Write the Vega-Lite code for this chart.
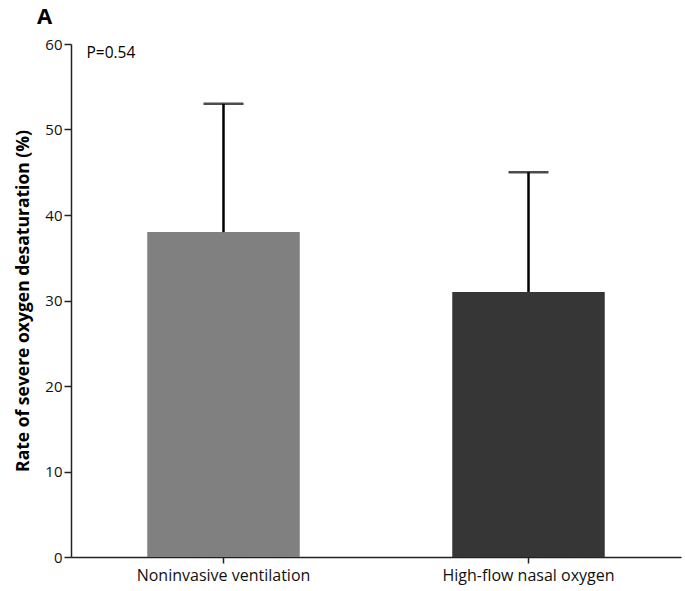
{
  "$schema": "https://vega.github.io/schema/vega-lite/v6.json",
  "width": 610,
  "height": 513,
  "autosize": {"type": "none"},
  "padding": {"left": 71, "top": 44, "right": 4, "bottom": 34},
  "background": "white",
  "config": {
    "view": {"stroke": null},
    "font": "Open Sans"
  },
  "title": {
    "text": "A",
    "anchor": "start",
    "frame": "group",
    "dx": -34,
    "offset": 8,
    "fontSize": 22,
    "fontWeight": "bold",
    "font": "Open Sans",
    "color": "#000"
  },
  "data": {
    "values": [
      {"group": "Noninvasive ventilation", "rate": 38, "upper": 53, "p": "P=0.54"},
      {"group": "High-flow nasal oxygen", "rate": 31, "upper": 45, "p": ""}
    ]
  },
  "encoding": {
    "x": {
      "field": "group",
      "type": "nominal",
      "sort": null,
      "scale": {"paddingInner": 0.5, "paddingOuter": 0.25},
      "axis": {
        "title": null,
        "labelAngle": 0,
        "labelFontSize": 16,
        "labelColor": "#111",
        "labelPadding": 4,
        "domainColor": "#222",
        "domainWidth": 1.5,
        "tickColor": "#222",
        "tickWidth": 1.5,
        "tickSize": 6
      }
    }
  },
  "layer": [
    {
      "mark": {"type": "bar"},
      "encoding": {
        "y": {
          "field": "rate",
          "type": "quantitative",
          "scale": {"domain": [0, 60]},
          "axis": {
            "title": "Rate of severe oxygen desaturation (%)",
            "titleFontSize": 17.5,
            "titleFontWeight": "bold",
            "titleColor": "#000",
            "titlePadding": 12,
            "values": [0, 10, 20, 30, 40, 50, 60],
            "grid": false,
            "labelFontSize": 15,
            "labelColor": "#111",
            "labelPadding": 2,
            "domainColor": "#222",
            "domainWidth": 1.5,
            "tickColor": "#222",
            "tickWidth": 1.5,
            "tickSize": 7
          }
        },
        "color": {
          "field": "group",
          "type": "nominal",
          "scale": {"domain": ["Noninvasive ventilation", "High-flow nasal oxygen"], "range": ["#808080", "#363636"]},
          "legend": null
        }
      }
    },
    {
      "mark": {"type": "rule", "color": "#000", "strokeWidth": 2.5},
      "encoding": {
        "y": {"field": "rate", "type": "quantitative"},
        "y2": {"field": "upper"}
      }
    },
    {
      "mark": {"type": "tick", "color": "#000", "thickness": 2.5, "size": 40, "orient": "horizontal"},
      "encoding": {
        "y": {"field": "upper", "type": "quantitative"}
      }
    },
    {
      "transform": [{"filter": "datum.p != ''"}],
      "mark": {"type": "text", "align": "left", "baseline": "middle", "dx": -137, "dy": 9, "fontSize": 15.5, "color": "#000"},
      "encoding": {
        "y": {"datum": 60, "type": "quantitative"},
        "text": {"field": "p"}
      }
    }
  ]
}
